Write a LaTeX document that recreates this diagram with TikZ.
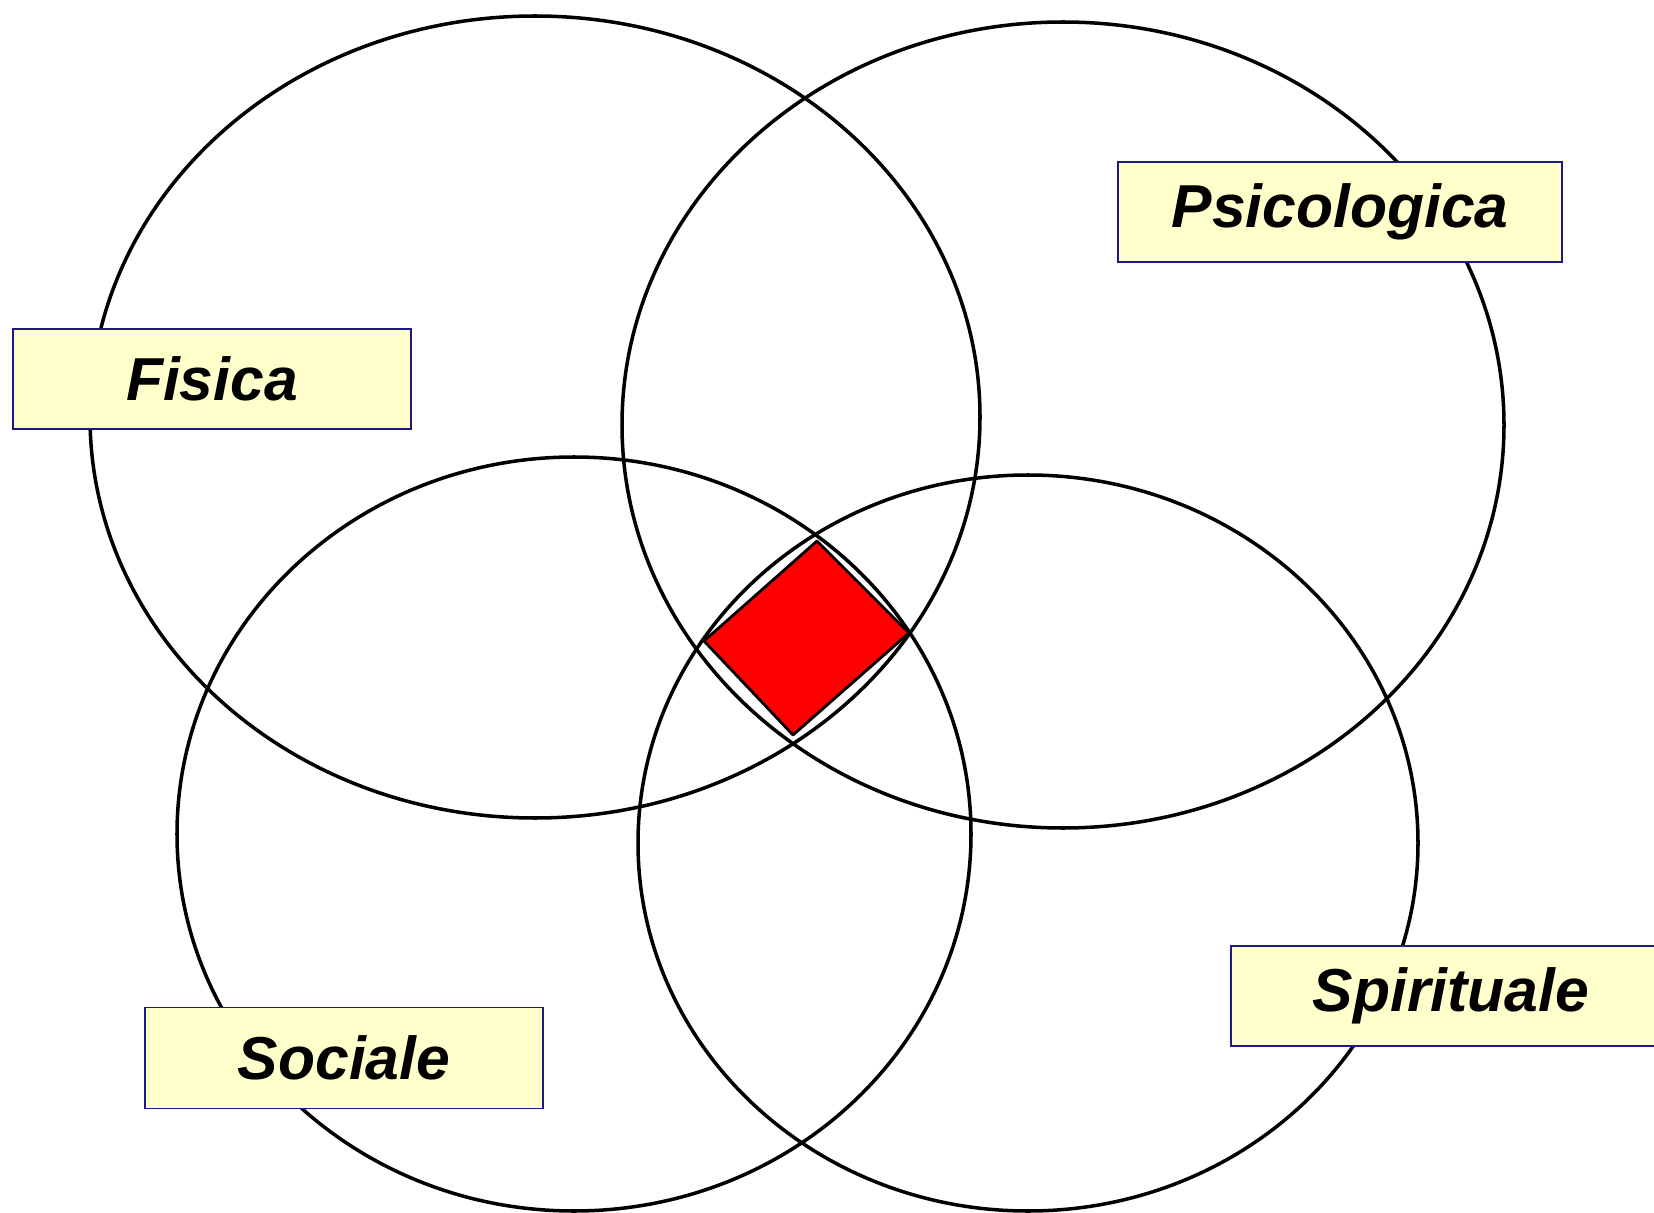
\documentclass[tikz,border=0pt]{standalone}
\usepackage{fontspec}
\setmainfont{Liberation Sans}
\definecolor{boxfill}{HTML}{FFFFCC}
\definecolor{boxline}{HTML}{1A1A80}
\definecolor{dred}{HTML}{FF0000}
\begin{document}
\begin{tikzpicture}[x=0.02cm,y=-0.02cm,
  ring/.style={draw=black,line width=2pt},
  labelbox/.style={draw=boxline,fill=boxfill,line width=1.1pt,inner sep=0pt,
    font=\fontsize{34.5}{36}\selectfont\bfseries\itshape},
  core/.style={draw=black,fill=dred,line width=1.6pt,line join=round}]
\useasboundingbox (0,0) rectangle (1654,1213);
% ellipses
\draw[ring] (535,417) ellipse [x radius=445, y radius=401];
\draw[ring] (1063,425) ellipse [x radius=441, y radius=403];
\draw[ring] (574,834) ellipse [x radius=397, y radius=377];
\draw[ring] (1028,843) ellipse [x radius=390, y radius=368];
% central diamond
\coordinate (dt) at (817,541);
\coordinate (dr) at (909,633);
\coordinate (db) at (793,735);
\coordinate (dl) at (704,641);
\draw[core] (dt) -- (dr) -- (db) -- (dl) -- cycle;
% labels
\node[labelbox,minimum width=444*0.02cm,minimum height=100*0.02cm] (psi) at (1340,212) {Psicologica};
\node[labelbox,minimum width=398*0.02cm,minimum height=100*0.02cm] (fis) at (212,379) {Fisica};
\node[labelbox,minimum width=398*0.02cm,minimum height=101*0.02cm] (soc) at (344,1058) {Sociale};
\node[labelbox,minimum width=440*0.02cm,minimum height=100*0.02cm] (spi) at (1451,996) {\raisebox{-3pt}{Spirituale}};
\end{tikzpicture}
\end{document}
